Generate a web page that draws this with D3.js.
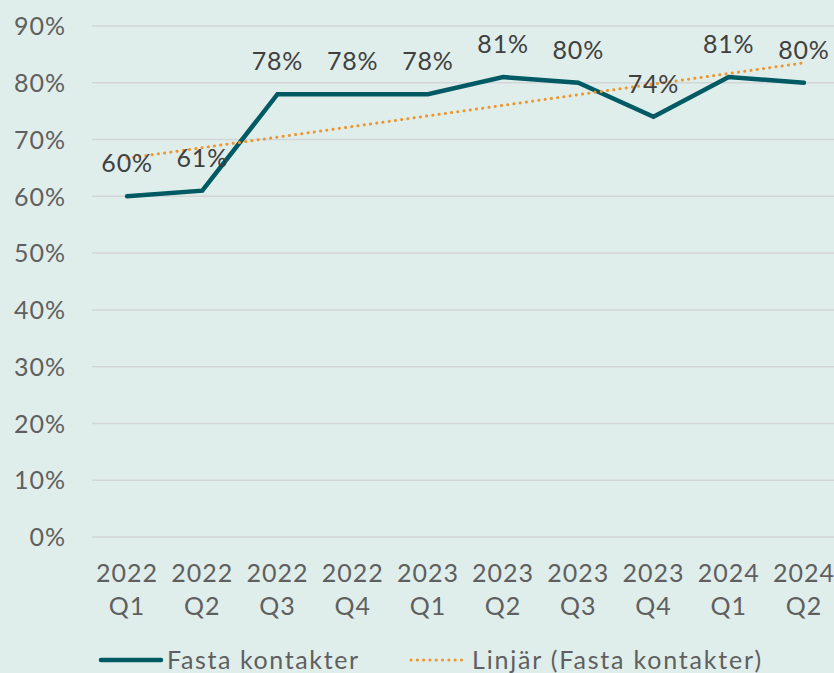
<!DOCTYPE html>
<html><head><meta charset="utf-8">
<script src="https://cdn.jsdelivr.net/npm/d3@7"></script>
<style>
html,body{margin:0;padding:0;background:#dfeeeb;overflow:hidden;}
svg{display:block;font-family:Lato,"Noto Sans",sans-serif;}
</style></head>
<body>
<svg id="chart" width="834" height="673"></svg>
<script>
const categories = ["2022 Q1","2022 Q2","2022 Q3","2022 Q4","2023 Q1","2023 Q2","2023 Q3","2023 Q4","2024 Q1","2024 Q2"];
const values = [60,61,78,78,78,81,80,74,81,80];
const trendValues = [66.7, 83.5]; // endpoints of Excel linear trendline
const yTicks = [0,10,20,30,40,50,60,70,80,90];
const seriesName = "Fasta kontakter";
const trendName = "Linjär (Fasta kontakter)";

const svg = d3.select("#chart");
const W = 834, H = 673;
svg.append("rect").attr("width",W).attr("height",H).attr("fill","#dfeeeb");

const x = d3.scaleBand().domain(categories).range([89.5, 841.5]);
const xc = d => x(d) + x.bandwidth()/2;
const y = d3.scaleLinear().domain([0,90]).range([537,26]);

// gridlines
svg.append("g").selectAll("line").data(yTicks).join("line")
  .attr("x1",92).attr("x2",W)
  .attr("y1",d=>y(d)).attr("y2",d=>y(d))
  .attr("stroke","#d3d6d6").attr("stroke-width",1.5);

// y axis labels
const yAxis = d3.axisLeft(y).tickValues(yTicks).tickFormat(d=>d+"%").tickSize(0).tickPadding(0);
const yg = svg.append("g").attr("transform","translate(66,0)").call(yAxis);
yg.select(".domain").remove();
yg.selectAll("text").attr("font-size",25).attr("fill","#5f5f5f").attr("letter-spacing","1px")
  .attr("font-family","Lato,'Noto Sans',sans-serif").attr("dy","0.35em");

// x axis labels (two lines)
const xAxis = d3.axisBottom(x).tickSize(0).tickFormat("");
const xg = svg.append("g").attr("transform","translate(0,537)").call(xAxis);
xg.select(".domain").remove();
xg.selectAll(".tick").each(function(d){
  const parts = d.split(" ");
  const t = d3.select(this).append("text").attr("fill","#5f5f5f").attr("font-size",25)
    .attr("letter-spacing","1px")
    .attr("text-anchor","middle").attr("font-family","Lato,'Noto Sans',sans-serif");
  t.append("tspan").attr("x",0).attr("y",45).text(parts[0]);
  t.append("tspan").attr("x",0).attr("y",78).text(parts[1]);
});

// main line
const line = d3.line().x((d,i)=>xc(categories[i])).y(d=>y(d));
svg.append("path").datum(values).attr("d",line)
  .attr("fill","none").attr("stroke","#005a64").attr("stroke-width",4.5)
  .attr("stroke-linejoin","miter").attr("stroke-linecap","round");

// trendline
const trendX = [categories[0], categories[categories.length-1]];
svg.append("path").datum(trendValues)
  .attr("d", d3.line().x((d,i)=>xc(trendX[i])).y(d=>y(d)))
  .attr("fill","none").attr("stroke","#f0952b").attr("stroke-width",3)
  .attr("stroke-dasharray","0.1 6.2").attr("stroke-linecap","round");

// data labels
svg.append("g").selectAll("text").data(values).join("text")
  .attr("x",(d,i)=>xc(categories[i])).attr("y",d=>y(d)-24)
  .attr("text-anchor","middle").attr("font-size",25).attr("fill","#404040")
  .attr("letter-spacing","0.8px")
  .text(d=>d+"%");

// legend
const lg = svg.append("g");
lg.append("line").attr("x1",101).attr("x2",161).attr("y1",660).attr("y2",660)
  .attr("stroke","#005a64").attr("stroke-width",4.5).attr("stroke-linecap","round");
lg.append("text").attr("x",167).attr("y",669).attr("font-size",25).attr("fill","#5f5f5f")
  .attr("letter-spacing","1.6px").text(seriesName);
lg.append("line").attr("x1",411).attr("x2",466).attr("y1",660).attr("y2",660)
  .attr("stroke","#f0952b").attr("stroke-width",3).attr("stroke-dasharray","0.1 6.2").attr("stroke-linecap","round");
lg.append("text").attr("x",472).attr("y",669).attr("font-size",25).attr("fill","#5f5f5f")
  .attr("letter-spacing","1.8px").text(trendName);
</script>
</body></html>
